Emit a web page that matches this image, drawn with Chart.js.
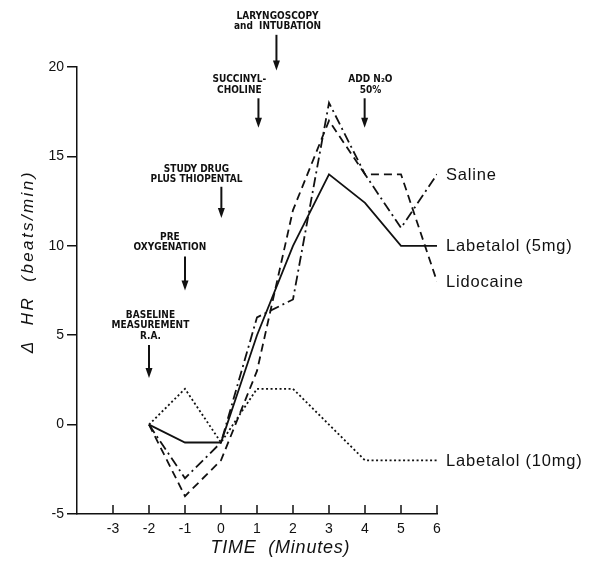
<!DOCTYPE html>
<html>
<head>
<meta charset="utf-8">
<script src="https://cdn.jsdelivr.net/npm/chart.js@4"></script>
<style>
  body { margin: 0; background: #fff; }
  #wrap { width: 595px; height: 562px; }
</style>
</head>
<body>
<div id="wrap"><canvas id="hrChart" width="595" height="562"></canvas></div>
<script>
// time points (minutes) and change in heart rate per group
const minutes = [-2, -1, 0, 1, 2, 3, 4, 5, 6];
const saline = [0, -3, -1, 6, 7, 18, 14, 11, 14];
const labetalol5 = [0, -1, -1, 5, 10, 14, 12.4, 10, 10];
const lidocaine = [0, -4, -2, 3, 12, 17, 14, 14, 8];
const labetalol10 = [0, 2, -1, 2, 2, 0, -2, -2, -2];

const seriesNames = ['Saline', 'Labetalol (5mg)', 'Lidocaine', 'Labetalol (10mg)'];
const xTicks = [-3, -2, -1, 0, 1, 2, 3, 4, 5, 6];
const yTicks = [-5, 0, 5, 10, 15, 20];

// event markers, in axis units: arrow at x, text block centred at textX,
// arrow from top down to tip, last text line sitting at textBase
const events = [
    { x: -2, textX: -1.96, tip: 2.6, top: 4.45, textBase: 4.8, lines: ['BASELINE', 'MEASUREMENT', 'R.A.'] },
    { x: -1, textX: -1.42, tip: 7.5, top: 9.4, textBase: 9.75, lines: ['PRE', 'OXYGENATION'] },
    { x: 0.01, textX: -0.68, tip: 11.55, top: 13.3, textBase: 13.55, lines: ['STUDY DRUG', 'PLUS THIOPENTAL'] },
    { x: 1.04, textX: 0.51, tip: 16.6, top: 18.25, textBase: 18.55, lines: ['SUCCINYL-', 'CHOLINE'] },
    { x: 1.54, textX: 1.57, tip: 19.8, top: 21.8, textBase: 22.1, lines: ['LARYNGOSCOPY', 'and  INTUBATION'] },
    { x: 3.99, textX: 4.15, tip: 16.6, top: 18.25, textBase: 18.55, lines: ['ADD N\u2082O', '50%'] }
];

function toPoints(values) {
    return minutes.map((m, i) => ({ x: m, y: values[i] }));
}

const ink = '#111';
const datasets = [
    { label: seriesNames[0], data: toPoints(saline), borderDash: [10, 4, 2, 4] },
    { label: seriesNames[1], data: toPoints(labetalol5), borderDash: [] },
    { label: seriesNames[2], data: toPoints(lidocaine), borderDash: [8, 5] },
    { label: seriesNames[3], data: toPoints(labetalol10), borderDash: [2, 2.5] }
].map(d => Object.assign(d, {
    borderColor: ink,
    borderWidth: 1.8,
    pointRadius: 0,
    tension: 0,
    fill: false
}));

// text stretched to a given width with letter spacing
function spacedText(ctx, text, x, y, width) {
    ctx.letterSpacing = '0px';
    const n = text.length;
    const gap = Math.max(0, (width - ctx.measureText(text).width) / n);
    ctx.letterSpacing = gap + 'px';
    ctx.fillText(text, x + gap / 2, y);
    ctx.letterSpacing = '0px';
}

// inward x ticks, axis titles, end labels and event arrows
const decorations = {
    id: 'decorations',
    afterDraw(chart) {
        const ctx = chart.ctx;
        const xs = chart.scales.x;
        const ys = chart.scales.y;
        const area = chart.chartArea;
        ctx.save();
        ctx.strokeStyle = ink;
        ctx.fillStyle = ink;
        ctx.lineWidth = 1.5;

        xTicks.forEach(t => {
            const px = xs.getPixelForValue(t);
            ctx.beginPath();
            ctx.moveTo(px, area.bottom);
            ctx.lineTo(px, area.bottom - 9);
            ctx.stroke();
        });

        // axis titles
        ctx.textAlign = 'center';
        ctx.textBaseline = 'middle';
        ctx.font = 'italic 18px "Liberation Sans", Arial, sans-serif';
        spacedText(ctx, 'TIME  (Minutes)', 280, 548, 140);
        ctx.save();
        ctx.translate(28, 263);
        ctx.rotate(-Math.PI / 2);
        ctx.font = 'italic 17px "Liberation Sans", Arial, sans-serif';
        spacedText(ctx, '\u0394  HR  (beats/min)', 0, 0, 183);
        ctx.restore();

        // series labels at the line ends
        ctx.font = '16.5px "Liberation Sans", Arial, sans-serif';
        ctx.textAlign = 'left';
        ctx.textBaseline = 'middle';
        ctx.letterSpacing = '0.8px';
        chart.data.datasets.forEach(ds => {
            const last = ds.data[ds.data.length - 1];
            ctx.fillText(ds.label, area.right + 9, ys.getPixelForValue(last.y) + 1);
        });
        ctx.letterSpacing = '0px';

        // event arrows
        ctx.font = 'bold 10px "DejaVu Sans Condensed", "DejaVu Sans", sans-serif';
        ctx.textAlign = 'center';
        ctx.textBaseline = 'alphabetic';
        events.forEach(ev => {
            const px = xs.getPixelForValue(ev.x);
            const tx = xs.getPixelForValue(ev.textX);
            const tipY = ys.getPixelForValue(ev.tip);
            const topY = ys.getPixelForValue(ev.top);
            const baseY = ys.getPixelForValue(ev.textBase);
            const n = ev.lines.length;
            ev.lines.forEach((line, i) => {
                ctx.fillText(line, tx, baseY - (n - 1 - i) * 10.5);
            });
            ctx.lineWidth = 2;
            ctx.beginPath();
            ctx.moveTo(px, topY);
            ctx.lineTo(px, tipY - 8);
            ctx.stroke();
            ctx.beginPath();
            ctx.moveTo(px - 3.5, tipY - 10);
            ctx.lineTo(px + 3.5, tipY - 10);
            ctx.lineTo(px, tipY);
            ctx.closePath();
            ctx.fill();
        });
        ctx.restore();
    }
};

new Chart(document.getElementById('hrChart'), {
    type: 'line',
    data: { datasets },
    options: {
        responsive: false,
        animation: false,
        layout: { padding: { left: 0, right: 158, top: 67, bottom: 0 } },
        plugins: { legend: { display: false }, tooltip: { enabled: false } },
        scales: {
            x: {
                type: 'linear',
                min: -4,
                max: 6,
                afterFit: s => { s.height = 48; },
                afterBuildTicks: s => { s.ticks = xTicks.map(v => ({ value: v })); },
                grid: { drawOnChartArea: false, drawTicks: false },
                border: { color: ink, width: 1.5 },
                ticks: {
                    padding: 7,
                    color: ink,
                    font: { family: 'Liberation Sans', size: 14 },
                    callback: v => String(v)
                }
            },
            y: {
                type: 'linear',
                min: -5,
                max: 20,
                afterFit: s => { s.width = 77; },
                afterBuildTicks: s => { s.ticks = yTicks.map(v => ({ value: v })); },
                grid: { drawOnChartArea: false, drawTicks: true, tickLength: 10, color: ink, lineWidth: 1.5 },
                border: { color: ink, width: 1.5 },
                ticks: {
                    padding: 3,
                    color: ink,
                    font: { family: 'Liberation Sans', size: 14 }
                }
            }
        }
    },
    plugins: [decorations]
});
</script>
</body>
</html>
